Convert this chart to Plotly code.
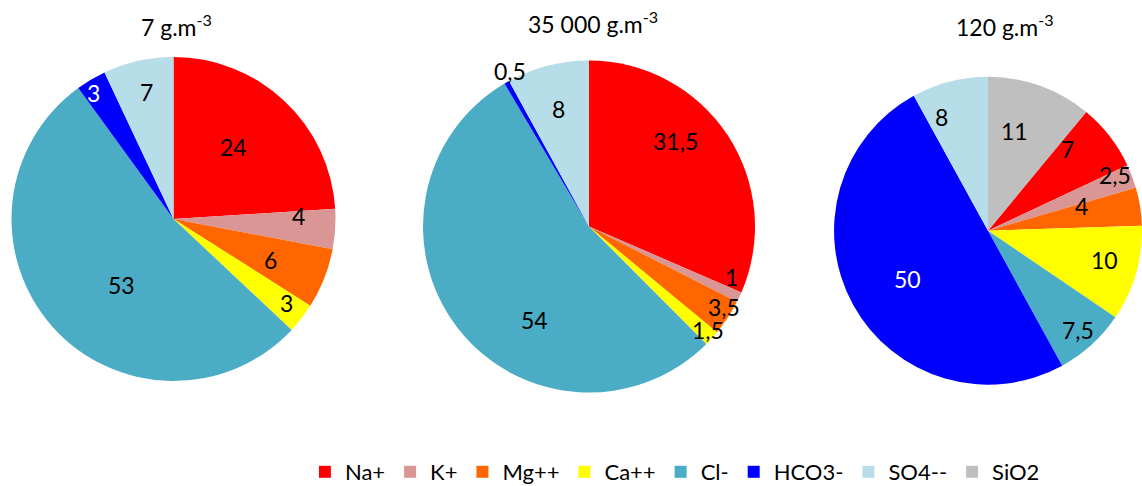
import math
import plotly.graph_objects as go

# Ion categories and their shares (%) in each water sample
categories = ["Na+", "K+", "Mg++", "Ca++", "Cl-", "HCO3-", "SO4--", "SiO2"]
titles = ["7 g.m<sup>-3</sup>", "35 000 g.m<sup>-3</sup>", "120 g.m<sup>-3</sup>"]
values_7 = [24, 4, 6, 3, 53, 3, 7, 0]
values_35000 = [31.5, 1, 3.5, 1.5, 54, 0.5, 8, 0]
values_120 = [7, 2.5, 4, 10, 7.5, 50, 8, 11]
samples = [values_7, values_35000, values_120]

colors = ["#FF0000", "#D99694", "#FF6600", "#FFFF00",
          "#4BACC6", "#0000FF", "#B7DEE8", "#BFBFBF"]

W, H = 1142, 486
FONT = "Lato, 'Open Sans', sans-serif"

# pie placement in pixels: centre and radius
centers = [(173.5, 219.0), (589.0, 226.5), (988.0, 230.7)]
radii = [162, 166, 154]
title_pos = [(176, 26), (593, 23), (1005, 26)]

# value-label placement: radial fraction and angular nudge (degrees)
label_frac = [
    [0.58, 0.77, 0.65, 0.87, 0.52, 0.92, 0.80, 0.70],
    [0.73, 0.91, 0.95, 0.95, 0.65, 1.05, 0.73, 0.70],
    [0.74, 0.90, 0.63, 0.78, 0.87, 0.61, 0.80, 0.67],
]
label_nudge = [
    [-3.6, -5, 1.4, -1.3, -10.6, -2, 0.7, 0],
    [-11.4, -5.5, -2.5, -1.2, -22, 2.6, 0, 0],
    [-8.2, -3, -6, -2.2, 0, -1.8, -7.7, -4.8],
]
# the third sample's disc is turned so the SiO2 share closes at 12 o'clock
rotations = [0, 0, 360 * values_120[-1] / sum(values_120)]


def fmt(v):
    return f"{v:g}".replace(".", ",")


fig = go.Figure()
annotations = []

for k, vals in enumerate(samples):
    cx, cy = centers[k]
    r = radii[k]
    dom_x = [max(0, (cx - r) / W), min(1, (cx + r) / W)]
    dom_y = [max(0, 1 - (cy + r) / H), min(1, 1 - (cy - r) / H)]
    fig.add_trace(go.Pie(
        labels=categories,
        values=vals,
        sort=False,
        direction="clockwise",
        rotation=rotations[k],
        marker=dict(colors=colors, line=dict(width=0)),
        textinfo="none",
        hoverinfo="label+value",
        domain=dict(x=dom_x, y=dom_y),
        showlegend=True,
    ))

    # value labels placed along each slice's mid-angle
    total = sum(vals)
    acc = 0.0
    for i, v in enumerate(vals):
        start = acc
        acc += v
        if v <= 0:
            continue
        mid = rotations[k] + 360 * (start + v / 2) / total + label_nudge[k][i]
        f = label_frac[k][i]
        px = cx + f * r * math.sin(math.radians(mid))
        py = cy - f * r * math.cos(math.radians(mid))
        white = categories[i] == "HCO3-" and f < 1
        annotations.append(dict(
            x=px / W, y=1 - py / H, xref="paper", yref="paper",
            text=fmt(v), showarrow=False, xanchor="center", yanchor="middle",
            font=dict(family=FONT, size=23, color="white" if white else "black"),
        ))

    tx, ty = title_pos[k]
    annotations.append(dict(
        x=tx / W, y=1 - ty / H, xref="paper", yref="paper",
        text=titles[k], showarrow=False, xanchor="center", yanchor="middle",
        font=dict(family=FONT, size=23, color="black"),
    ))

fig.update_layout(
    width=W, height=H,
    margin=dict(l=0, r=0, t=0, b=0, autoexpand=False),
    paper_bgcolor="white",
    plot_bgcolor="white",
    annotations=annotations,
    legend=dict(
        orientation="h",
        x=0.591, xanchor="center",
        y=1 - 472 / H, yanchor="middle",
        font=dict(family=FONT, size=22, color="black"),
        bgcolor="rgba(0,0,0,0)",
        itemclick=False, itemdoubleclick=False,
    ),
)

fig.write_html("out.html")
